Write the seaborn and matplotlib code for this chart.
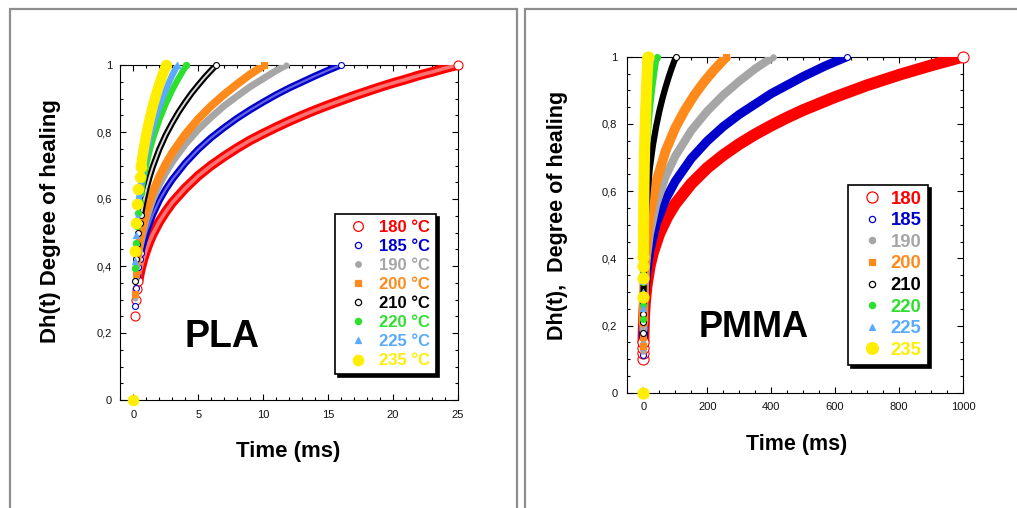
import numpy as np
import pandas as pd
import matplotlib
matplotlib.use("Agg")
import matplotlib.pyplot as plt
import seaborn as sns
from matplotlib.lines import Line2D
from matplotlib.patches import Rectangle
from matplotlib.ticker import MultipleLocator

# ---------------- data ----------------
pla_labels = ["180 °C", "185 °C", "190 °C", "200 °C", "210 °C", "220 °C", "225 °C", "235 °C"]
pmma_labels = ["180", "185", "190", "200", "210", "220", "225", "235"]

pla_180_t = [0.1, 0.2, 0.3, 0.4, 0.5, 0.6, 0.8, 1, 1.25, 1.5, 2, 2.5, 3, 4, 5, 6, 7, 8, 9, 10, 11, 12,
             13, 14, 15, 16, 17, 18, 19, 20, 21, 22, 23, 24, 25]
pla_180_y = [0.251, 0.299, 0.331, 0.356, 0.376, 0.394, 0.423, 0.447, 0.473, 0.495, 0.532, 0.562, 0.589,
             0.632, 0.669, 0.700, 0.727, 0.752, 0.775, 0.795, 0.814, 0.832, 0.849, 0.865, 0.880, 0.894,
             0.908, 0.921, 0.934, 0.946, 0.957, 0.969, 0.979, 0.990, 1.000]
pla_185_t = [0.1, 0.2, 0.3, 0.4, 0.5, 0.6, 0.7, 1, 1.5, 2, 2.5, 3, 4, 5, 6, 7, 8, 9, 10, 11, 12, 13, 14, 15, 16]
pla_185_y = [0.281, 0.334, 0.370, 0.398, 0.420, 0.440, 0.457, 0.500, 0.553, 0.595, 0.629, 0.658, 0.707,
             0.748, 0.783, 0.813, 0.841, 0.866, 0.889, 0.911, 0.931, 0.949, 0.967, 0.984, 1.000]
pla_190_t = [0.1, 0.2, 0.3, 0.4, 0.5, 0.7, 1, 1.5, 2, 2.5, 3, 4, 5, 6, 7, 8, 9, 10, 11, 11.8]
pla_190_y = [0.303, 0.361, 0.399, 0.429, 0.454, 0.494, 0.540, 0.597, 0.642, 0.678, 0.710, 0.763, 0.807,
             0.844, 0.878, 0.907, 0.935, 0.959, 0.983, 1.000]
pla_200_t = [0.1, 0.2, 0.3, 0.4, 0.5, 0.7, 1, 1.5, 2, 2.5, 3, 4, 5, 6, 7, 8, 9, 10.1]
pla_200_y = [0.315, 0.375, 0.415, 0.446, 0.472, 0.513, 0.561, 0.621, 0.667, 0.705, 0.738, 0.793, 0.839,
             0.878, 0.912, 0.943, 0.972, 1.000]
pla_210_t = [0.1, 0.2, 0.3, 0.4, 0.5, 0.6, 0.7, 0.8, 1, 1.25, 1.5, 2, 2.5, 3, 3.5, 4, 4.5, 5, 5.5, 6, 6.4]
pla_210_y = [0.354, 0.420, 0.465, 0.500, 0.529, 0.553, 0.575, 0.595, 0.629, 0.665, 0.696, 0.748, 0.791,
             0.827, 0.860, 0.889, 0.916, 0.940, 0.963, 0.984, 1.000]
pla_220_t = [0.1, 0.2, 0.3, 0.4, 0.5, 0.6, 0.7, 0.8, 1, 1.25, 1.5, 2, 2.5, 3, 3.5, 4.1]
pla_220_y = [0.395, 0.470, 0.520, 0.559, 0.591, 0.618, 0.643, 0.665, 0.703, 0.743, 0.778, 0.836, 0.884,
             0.925, 0.961, 1.000]
pla_225_t = [0.1, 0.2, 0.3, 0.4, 0.5, 0.7, 1, 1.25, 1.5, 2, 2.5, 3, 3.4]
pla_225_y = [0.414, 0.492, 0.545, 0.586, 0.619, 0.674, 0.736, 0.779, 0.815, 0.876, 0.926, 0.969, 1.000]
pla_235_t = [0, 0.1, 0.2, 0.3, 0.4, 0.5, 0.6, 0.7, 0.8, 1, 1.2, 1.5, 1.8, 2.1, 2.4, 2.55]
pla_235_y = [0, 0.445, 0.529, 0.586, 0.629, 0.665, 0.696, 0.724, 0.748, 0.791, 0.828, 0.876, 0.917,
             0.953, 0.985, 1.000]

pmma_180_t = [0.1, 0.2, 0.3, 0.5, 1, 2, 3, 5, 10, 20, 30, 50, 75, 100, 150, 200, 250, 300, 350, 400,
              450, 500, 600, 700, 800, 900, 1000]
pmma_180_y = [0.100, 0.119, 0.132, 0.150, 0.178, 0.211, 0.234, 0.266, 0.316, 0.376, 0.416, 0.473, 0.523,
              0.562, 0.622, 0.669, 0.707, 0.740, 0.769, 0.795, 0.819, 0.841, 0.880, 0.915, 0.946, 0.974, 1.000]
pmma_185_t = [0.1, 0.2, 0.5, 1, 2, 5, 10, 20, 40, 70, 100, 150, 200, 250, 300, 400, 500, 570, 637]
pmma_185_y = [0.112, 0.133, 0.167, 0.199, 0.237, 0.298, 0.354, 0.421, 0.501, 0.576, 0.629, 0.697, 0.749,
              0.792, 0.828, 0.890, 0.941, 0.973, 1.000]
pmma_190_t = [0.1, 0.2, 0.5, 1, 2, 5, 10, 20, 40, 70, 100, 150, 200, 250, 300, 350, 406]
pmma_190_y = [0.125, 0.149, 0.187, 0.223, 0.265, 0.333, 0.396, 0.471, 0.560, 0.644, 0.704, 0.780, 0.838,
              0.886, 0.927, 0.964, 1.000]
pmma_200_t = [0.1, 0.2, 0.5, 1, 2, 5, 10, 20, 40, 70, 100, 130, 160, 190, 220, 260]
pmma_200_y = [0.140, 0.167, 0.209, 0.249, 0.296, 0.372, 0.443, 0.527, 0.626, 0.720, 0.788, 0.841, 0.886,
              0.925, 0.959, 1.000]
pmma_210_t = [0.1, 0.2, 0.3, 0.5, 1, 2, 5, 10, 20, 30, 40, 50, 60, 70, 80, 90, 102]
pmma_210_y = [0.177, 0.210, 0.233, 0.265, 0.315, 0.374, 0.471, 0.560, 0.665, 0.736, 0.791, 0.837, 0.876,
              0.910, 0.941, 0.969, 1.000]
pmma_220_t = [0.1, 0.2, 0.3, 0.5, 1, 2, 5, 10, 15, 20, 25, 30, 35, 40, 43]
pmma_220_y = [0.220, 0.261, 0.289, 0.328, 0.391, 0.464, 0.584, 0.694, 0.769, 0.826, 0.873, 0.914, 0.950,
              0.982, 1.000]
pmma_225_t = [0.1, 0.2, 0.3, 0.5, 1, 2, 4, 6, 8, 10, 13, 16, 20, 25]
pmma_225_y = [0.251, 0.299, 0.331, 0.376, 0.447, 0.532, 0.632, 0.700, 0.752, 0.795, 0.849, 0.894, 0.946,
              1.000]
pmma_235_t = [0, 0.1, 0.2, 0.3, 0.4, 0.5, 0.7, 1, 1.5, 2, 3, 4, 5, 6, 8, 10, 12, 15]
pmma_235_y = [0, 0.286, 0.340, 0.376, 0.404, 0.427, 0.465, 0.508, 0.562, 0.604, 0.669, 0.719, 0.760,
              0.795, 0.855, 0.904, 0.946, 1.000]

pla_xticks = [0, 5, 10, 15, 20, 25]
pla_xticklabels = ["0", "5", "10", "15", "20", "25"]
pmma_xticks = [0, 200, 400, 600, 800, 1000]
pmma_xticklabels = ["0", "200", "400", "600", "800", "1000"]
yticks = [0, 0.2, 0.4, 0.6, 0.8, 1.0]
yticklabels = ["0", "0,2", "0,4", "0,6", "0,8", "1"]

# ---------------- styles ----------------
colors = ["#ff0000", "#0000cc", "#a6a6a6", "#ff8a1c", "#000000", "#2ee02e", "#5aaaff", "#ffee00"]
markers = ["o", "o", "o", "s", "o", "o", "^", "o"]
hollow = [True, True, False, False, True, False, False, False]

pla_msize = [6.5, 4.3, 3.6, 4.3, 4.3, 4.5, 4.5, 7.5]
pla_band = [7.0, 5.0, 5.0, 5.8, 4.5, 4.5, 4.5, 7.5]
pla_start = [3, 5, 3, 2, 5, 5, 3, 6]
# lighter inner stroke imitating the dense open-circle bands
pla_inner = [("#ffffff", 2.6, 0.45), ("#ffffff", 1.6, 0.4), None, None,
             ("#ffffff", 1.4, 0.85), None, None, None]

pmma_msize = [8.0, 4.3, 3.8, 4.5, 4.3, 4.3, 4.3, 8.0]
pmma_band = [8.5, 6.5, 6.0, 7.0, 4.5, 4.0, 4.0, 8.0]
pmma_start = [3, 2, 2, 2, 3, 3, 3, 4]

pla_series = [(pla_180_t, pla_180_y), (pla_185_t, pla_185_y), (pla_190_t, pla_190_y),
              (pla_200_t, pla_200_y), (pla_210_t, pla_210_y), (pla_220_t, pla_220_y),
              (pla_225_t, pla_225_y), (pla_235_t, pla_235_y)]
pmma_series = [(pmma_180_t, pmma_180_y), (pmma_185_t, pmma_185_y), (pmma_190_t, pmma_190_y),
               (pmma_200_t, pmma_200_y), (pmma_210_t, pmma_210_y), (pmma_220_t, pmma_220_y),
               (pmma_225_t, pmma_225_y), (pmma_235_t, pmma_235_y)]

sns.set_style("ticks")
plt.rcParams["font.family"] = ["Liberation Sans", "DejaVu Sans"]
plt.rcParams["axes.linewidth"] = 0.8
plt.rcParams["text.color"] = "black"
plt.rcParams["axes.labelcolor"] = "black"

W, H = 1017, 508
fig = plt.figure(figsize=(W / 100, H / 100), dpi=100)
fig.patch.set_facecolor("white")

# panel frames
for x0, x1 in [(10.3, 517.0), (525.0, 1040.0)]:
    fig.add_artist(Rectangle((x0 / W, -0.1), (x1 - x0) / W, 1.1 - 9.5 / H,
                             transform=fig.transFigure, fill=False,
                             edgecolor="#8e8e8e", linewidth=1.6))

ax1 = fig.add_axes([120.3 / W, 1 - 400 / H, 337.4 / W, 335 / H])
ax2 = fig.add_axes([627.3 / W, 1 - 392.7 / H, 335.7 / W, 336 / H])


def draw_series(ax, t, y, i, msize, lw, k, inner=None):
    df = pd.DataFrame({"t": t, "y": y})
    z = 3 + i * 0.1
    c = colors[i]
    band = df.iloc[k:]
    sns.lineplot(data=band, x="t", y="y", ax=ax, color=c, linewidth=lw, sort=False,
                 estimator=None, errorbar=None, solid_capstyle="round",
                 solid_joinstyle="round", zorder=z, legend=False)
    if inner is not None:
        sns.lineplot(data=band, x="t", y="y", ax=ax, color=inner[0], linewidth=inner[1],
                     sort=False, estimator=None, errorbar=None, alpha=inner[2],
                     solid_capstyle="round", solid_joinstyle="round", zorder=z + 0.01, legend=False)
    pts = pd.concat([df.iloc[:k + 1], df.iloc[[-1]]])
    sns.scatterplot(data=pts, x="t", y="y", ax=ax, marker=markers[i], s=msize ** 2,
                    facecolor="white" if hollow[i] else c, edgecolor=c,
                    linewidth=0.8, zorder=z + 0.02, clip_on=False, legend=False)


for i, (t, y) in enumerate(pla_series):
    draw_series(ax1, t, y, i, pla_msize[i], pla_band[i], pla_start[i], pla_inner[i])
for i, (t, y) in enumerate(pmma_series):
    draw_series(ax2, t, y, i, pmma_msize[i], pmma_band[i], pmma_start[i])

# axes styling
for ax, xlim, xt, xtl, xminor, fs, xpad, ypad in [
        (ax1, (-1, 25), pla_xticks, pla_xticklabels, 1, 8, 7.2, 5.8),
        (ax2, (-50, 1000), pmma_xticks, pmma_xticklabels, 50, 8, 6.7, 7.2)]:
    ax.set_xlim(*xlim)
    ax.set_ylim(0, 1)
    ax.set_xticks(xt)
    ax.set_xticklabels(xtl)
    ax.set_yticks(yticks)
    ax.set_yticklabels(yticklabels)
    ax.xaxis.set_minor_locator(MultipleLocator(xminor))
    ax.yaxis.set_minor_locator(MultipleLocator(0.05))
    ax.tick_params(which="both", direction="in", top=True, right=True,
                   color="black", width=0.8, labelsize=fs, labelcolor="#111111")
    ax.tick_params(which="major", length=4)
    ax.tick_params(which="minor", length=2.2)
    ax.tick_params(axis="x", which="major", pad=xpad)
    ax.tick_params(axis="y", which="major", pad=ypad)
    for sp in ax.spines.values():
        sp.set_visible(True)
        sp.set_color("black")
        sp.set_linewidth(0.8)
        sp.set_zorder(2.5)
    ax.set_facecolor("white")

ax1.set_xlabel("Time (ms)", fontsize=16, fontweight="bold", color="black")
ax1.set_ylabel("Dh(t) Degree of healing", fontsize=16, fontweight="bold", color="black")
ax1.xaxis.set_label_coords(0.4985, -0.121)
ax1.yaxis.set_label_coords(-0.176, 0.533)
ax2.set_xlabel("Time (ms)", fontsize=15.5, fontweight="bold", color="black")
ax2.set_ylabel("Dh(t),  Degree of healing", fontsize=15.5, fontweight="bold", color="black")
ax2.xaxis.set_label_coords(0.5055, -0.123)
ax2.yaxis.set_label_coords(-0.178, 0.529)

fig.text(221.7 / W, 1 - 347 / H, "PLA", fontsize=27, fontweight="bold", ha="center",
         va="baseline", color="black")
fig.text(753.5 / W, 1 - 337 / H, "PMMA", fontsize=26, fontweight="bold", ha="center",
         va="baseline", color="black")

# legends
pla_leg_ms = [7, 4.5, 4, 4.5, 4.5, 4.5, 4.5, 7.5]
pmma_leg_ms = [8, 4.5, 4.5, 5, 4.5, 4.5, 4.5, 8.5]


def make_legend(ax, labels, ms, anchor, fs, bp, hl, htp, ls):
    handles = [Line2D([], [], linestyle="none", marker=markers[i], markersize=ms[i],
                      markerfacecolor="white" if hollow[i] else colors[i],
                      markeredgecolor=colors[i], markeredgewidth=0.9)
               for i in range(len(labels))]
    leg = ax.legend(handles, labels, loc="upper left", bbox_to_anchor=anchor,
                    bbox_transform=fig.transFigure, borderaxespad=0, frameon=True,
                    fancybox=False, framealpha=1, edgecolor="black",
                    shadow={"color": "black", "alpha": 1, "ox": 2.2, "oy": -2.2},
                    prop={"weight": "bold", "size": fs}, borderpad=bp,
                    handlelength=hl, handletextpad=htp, labelspacing=ls)
    leg.get_frame().set_linewidth(1.2)
    for txt, c in zip(leg.get_texts(), colors):
        txt.set_color(c)
    leg.set_zorder(10)
    return leg


make_legend(ax1, pla_labels, pla_leg_ms, (335 / W, 1 - 214 / H), 12, 0.35, 2.1, 0.2, 0.245)
make_legend(ax2, pmma_labels, pmma_leg_ms, (848 / W, 1 - 185 / H), 13.3, 0.32, 1.95, 0.05, 0.245)

fig.savefig("out.png", dpi=100, facecolor="white")
